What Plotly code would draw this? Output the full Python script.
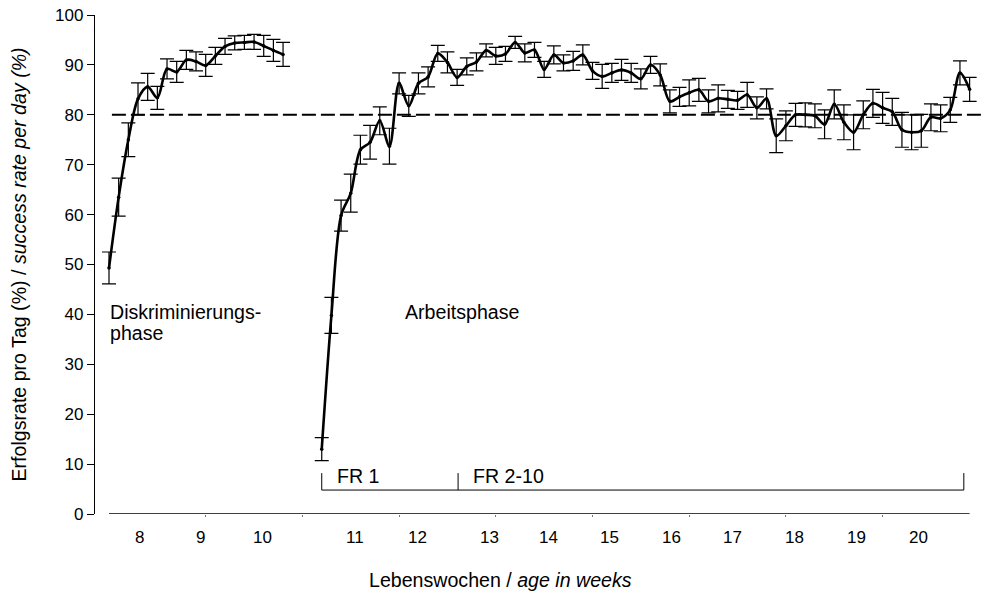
import plotly.graph_objects as go

# ---- data -------------------------------------------------------------
# training sessions (running index on the category axis)
disc_session = list(range(0, 19))      # discrimination phase
work_session = list(range(22, 90))     # working phase

disc_mean = [49.3, 63.5, 75.0, 83.2, 85.6, 83.4, 89.2, 88.6, 91.0, 90.7,
             89.9, 91.8, 93.7, 94.4, 94.5, 94.6, 93.8, 92.9, 92.1]
disc_err = [3.2, 3.8, 3.4, 3.2, 2.7, 2.3, 2.0, 2.1, 1.9, 1.9,
            2.2, 1.7, 1.6, 1.4, 1.4, 1.5, 2.1, 2.2, 2.4]

work_mean = [13.0, 39.8, 59.8, 64.3, 73.0, 74.5, 78.8, 73.7, 86.3, 81.8,
             86.3, 87.6, 92.3, 90.5, 87.5, 89.7, 90.6, 92.9, 91.8, 92.2,
             94.5, 92.4, 93.0, 89.1, 92.0, 90.4, 90.8, 92.0, 88.8, 87.7,
             88.4, 89.0, 88.4, 87.2, 90.0, 88.0, 82.7, 83.6, 84.4, 85.0,
             82.7, 83.3, 83.1, 82.9, 84.0, 81.4, 83.2, 75.8, 77.8, 80.0,
             80.0, 79.8, 78.1, 82.1, 78.5, 76.5, 80.0, 82.3, 81.4, 80.6,
             77.0, 76.5, 76.8, 79.5, 79.3, 81.0, 88.4, 85.1]
work_err = [2.3, 3.6, 3.1, 3.8, 2.9, 3.4, 2.8, 3.6, 2.1, 2.1,
            2.1, 2.0, 1.6, 2.1, 1.6, 1.7, 1.8, 1.3, 1.7, 1.5,
            1.2, 1.8, 1.5, 1.6, 1.8, 1.6, 1.9, 2.0, 1.7, 2.4,
            1.9, 2.1, 1.9, 2.0, 1.7, 2.2, 2.3, 1.9, 2.6, 2.3,
            2.3, 2.7, 1.8, 1.8, 2.5, 2.2, 2.0, 3.4, 3.0, 2.3,
            2.4, 2.4, 2.9, 2.9, 3.5, 3.5, 2.8, 2.8, 3.1, 2.7,
            3.5, 3.5, 3.3, 2.7, 2.7, 2.5, 2.4, 2.4]

criterion = 80  # learning criterion (%)

week_labels = ["8", "9", "10", "11", "12", "13", "14", "15", "16",
               "17", "18", "19", "20"]
week_label_at = [3.2, 9.5, 15.9, 25.4, 31.9, 39.3, 45.5, 51.8, 58.2,
                 64.5, 70.9, 77.3, 83.7]

# schedule bracket: FR 1 then FR 2-10 during the working phase
fr_edges = [22, 36.1, 88.4]
fr_names = ["FR 1", "FR 2-10"]

# ---- figure -------------------------------------------------------------
FONT = "Arial, Liberation Sans, sans-serif"
TXT = 19.6
BLACK = "#000000"

fig = go.Figure()


def add_phase(xs, ys, es):
    fig.add_trace(go.Scatter(
        x=xs, y=ys,
        mode="lines+markers",
        line=dict(color=BLACK, width=2.6, shape="spline", smoothing=0.9),
        marker=dict(color=BLACK, size=3.5),
        error_y=dict(type="data", array=es, visible=True,
                     color=BLACK, thickness=1.2, width=7),
        showlegend=False,
        hoverinfo="x+y",
    ))


add_phase(disc_session, disc_mean, disc_err)
add_phase(work_session, work_mean, work_err)

shapes = []
# 80 % criterion line
shapes.append(dict(type="line", xref="x", yref="y",
                   x0=0.3, x1=90.2, y0=criterion, y1=criterion,
                   line=dict(color=BLACK, width=2, dash="14px,5px")))
# x-axis baseline
shapes.append(dict(type="line", xref="x", yref="y",
                   x0=0, x1=89, y0=0, y1=0,
                   line=dict(color=BLACK, width=1.4)))
# FR bracket
br_y, br_top = 4.8, 8.2
shapes.append(dict(type="line", xref="x", yref="y",
                   x0=fr_edges[0], x1=fr_edges[-1], y0=br_y, y1=br_y,
                   line=dict(color=BLACK, width=1)))
for e in fr_edges:
    shapes.append(dict(type="line", xref="x", yref="y",
                       x0=e, x1=e, y0=br_y, y1=br_top,
                       line=dict(color=BLACK, width=1)))

annotations = []
for lab, pos in zip(week_labels, week_label_at):
    annotations.append(dict(text=lab, x=pos, y=0, xref="x", yref="paper",
                            yshift=-23, showarrow=False,
                            xanchor="center", yanchor="middle",
                            font=dict(family=FONT, size=17, color=BLACK)))

for name, left in zip(fr_names, fr_edges[:-1]):
    annotations.append(dict(text=name, x=left, y=br_top - 0.6, xref="x", yref="y",
                            xshift=13, showarrow=False,
                            xanchor="left", yanchor="middle",
                            font=dict(family=FONT, size=TXT, color=BLACK)))

annotations += [
    dict(text="Diskriminierungs-", x=-0.15, y=40.5, xref="x", yref="y",
         showarrow=False, xanchor="left", yanchor="middle",
         font=dict(family=FONT, size=TXT, color=BLACK)),
    dict(text="phase", x=-0.15, y=36.2, xref="x", yref="y",
         showarrow=False, xanchor="left", yanchor="middle",
         font=dict(family=FONT, size=TXT, color=BLACK)),
    dict(text="Arbeitsphase", x=30.4, y=40.5, xref="x", yref="y",
         showarrow=False, xanchor="left", yanchor="middle",
         font=dict(family=FONT, size=TXT, color=BLACK)),
    dict(text="Lebenswochen / <i>age in weeks</i>", x=0.4577, y=-0.132,
         xref="paper", yref="paper", showarrow=False,
         xanchor="center", yanchor="middle",
         font=dict(family=FONT, size=TXT, color=BLACK)),
    dict(text="Erfolgsrate pro Tag (%) / <i>success rate per day (%)</i>",
         x=-0.0868, y=0.5, xref="paper", yref="paper", textangle=-90,
         showarrow=False, xanchor="center", yanchor="middle",
         font=dict(family=FONT, size=TXT, color=BLACK)),
]

fig.update_layout(
    width=983, height=596,
    margin=dict(l=95, r=1, t=15, b=82),
    paper_bgcolor="white", plot_bgcolor="white",
    shapes=shapes, annotations=annotations,
    font=dict(family=FONT, color=BLACK),
    xaxis=dict(range=[-1.448, 90.28], showgrid=False, zeroline=False,
               showline=False, ticks="outside", ticklen=2, tickwidth=1,
               tickcolor="#777777", tickvals=list(range(10, 90, 10)),
               showticklabels=False),
    yaxis=dict(range=[0, 100], showgrid=False, zeroline=False,
               showline=True, linecolor=BLACK, linewidth=1.4,
               ticks="outside", ticklen=7, tickwidth=1.2, tickcolor=BLACK,
               tickvals=list(range(0, 101, 10)),
               tickfont=dict(family=FONT, size=17, color=BLACK)),
)

fig.write_html("out.html")
